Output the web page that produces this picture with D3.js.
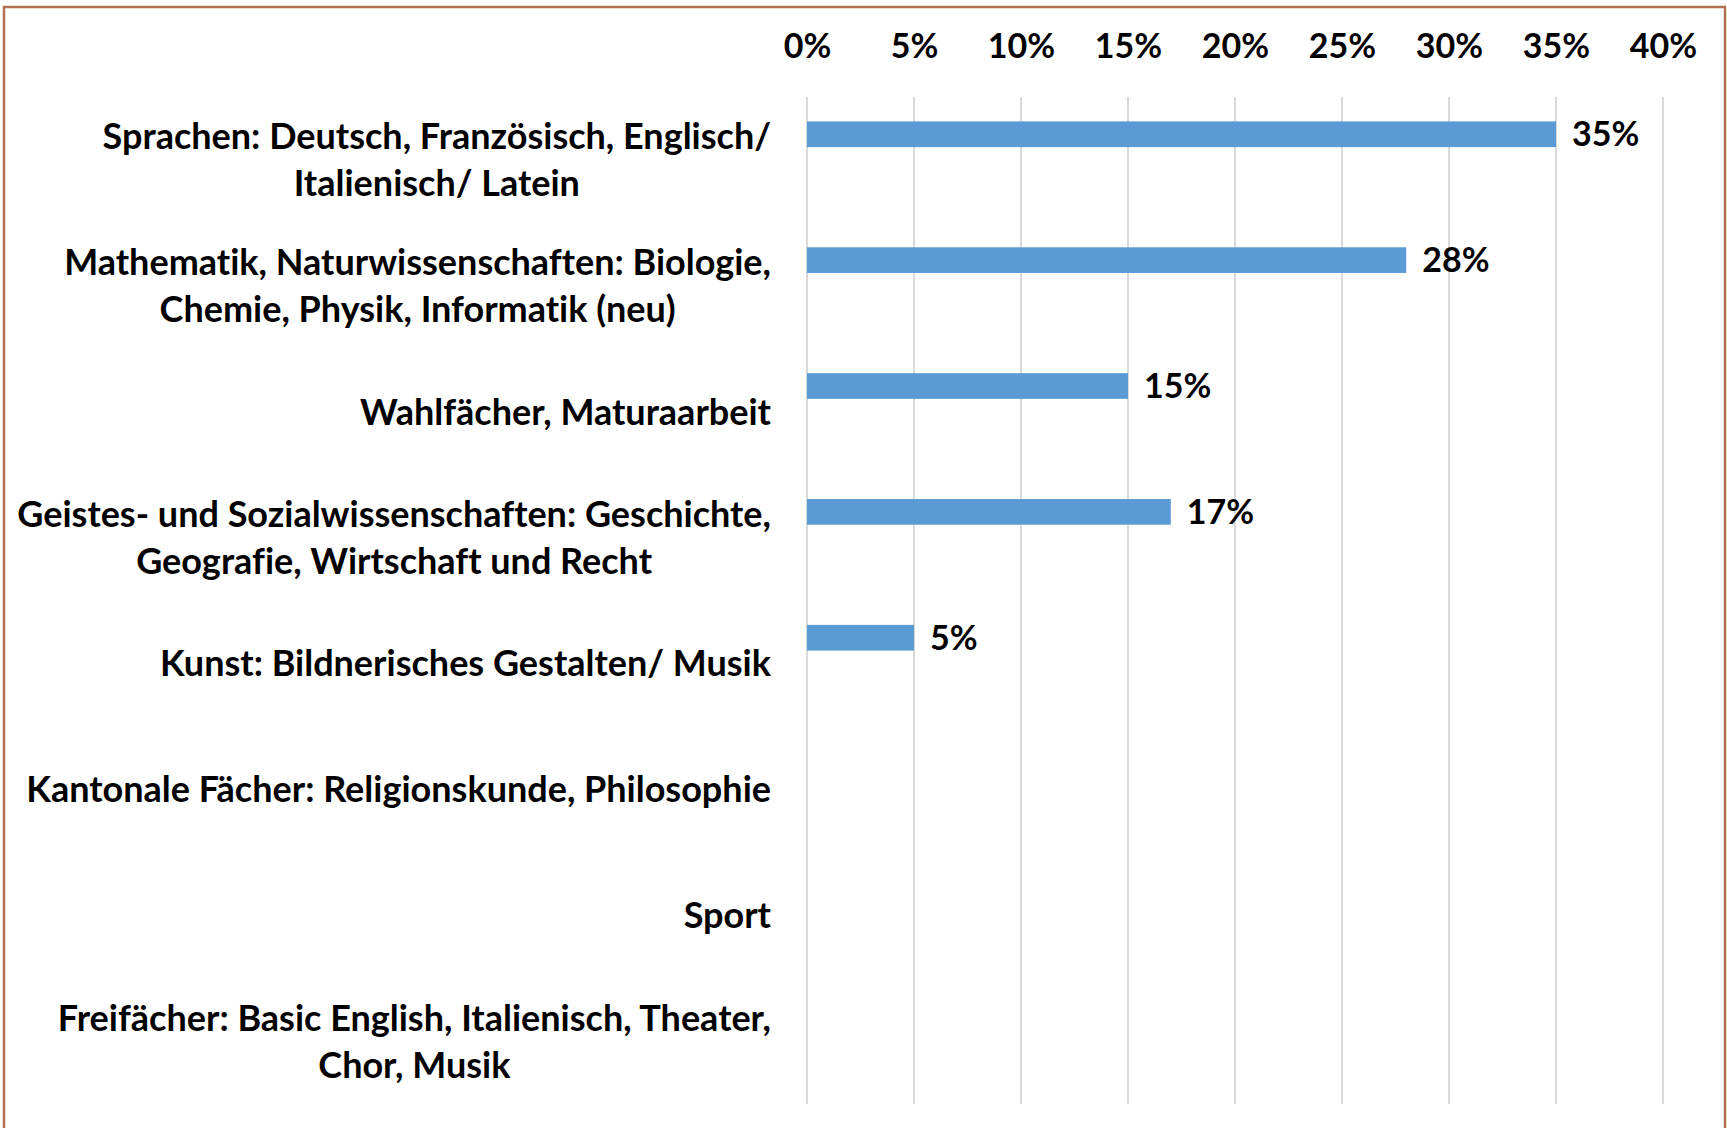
<!DOCTYPE html>
<html>
<head>
<meta charset="utf-8">
<script src="https://cdn.jsdelivr.net/npm/d3@7"></script>
<style>
  html, body { margin: 0; padding: 0; background: #fff; }
  text { font-family: Lato, "Open Sans", sans-serif; font-weight: 700; fill: #000; font-variant-ligatures: none; }
</style>
</head>
<body>
<div id="chart"></div>
<script>
const categories = [
  ["Sprachen: Deutsch, Französisch, Englisch/", "Italienisch/ Latein"],
  ["Mathematik, Naturwissenschaften: Biologie,", "Chemie, Physik, Informatik (neu)"],
  ["Wahlfächer, Maturaarbeit"],
  ["Geistes- und Sozialwissenschaften: Geschichte,", "Geografie, Wirtschaft und Recht"],
  ["Kunst: Bildnerisches Gestalten/ Musik"],
  ["Kantonale Fächer: Religionskunde, Philosophie"],
  ["Sport"],
  ["Freifächer: Basic English, Italienisch, Theater,", "Chor, Musik"]
];
const values = [0.35, 0.28, 0.15, 0.17, 0.05, null, null, null];
const series = ["Anteil", "Serie 2", "Serie 3"];
const ticks = [0, 0.05, 0.10, 0.15, 0.20, 0.25, 0.30, 0.35, 0.40];

const width = 1727, height = 1128;
const margin = {top: 97, right: 64, bottom: 24, left: 807};

const svg = d3.select("#chart").append("svg")
  .attr("width", width)
  .attr("height", height);

// frame
svg.append("path")
  .attr("d", `M4,${height} L4,7 L1725,7 L1725,${height}`)
  .attr("fill", "none")
  .attr("stroke", "#b36f52")
  .attr("stroke-width", 2.5);

const keys = categories.map(c => c.join(" "));

const x = d3.scaleLinear().domain([0, 0.40]).range([margin.left, width - margin.right]);
const y = d3.scaleBand().domain(keys).range([margin.top, height - margin.bottom]);
const ySub = d3.scaleBand().domain(series).range([0, y.bandwidth()]).paddingOuter(0.95);

// gridlines
svg.append("g")
  .selectAll("line")
  .data(ticks)
  .join("line")
  .attr("x1", d => x(d)).attr("x2", d => x(d))
  .attr("y1", margin.top).attr("y2", height - margin.bottom)
  .attr("stroke", "#d9d9d9")
  .attr("stroke-width", 2);

// top axis
const xAxis = svg.append("g")
  .attr("transform", `translate(0,${margin.top})`)
  .call(d3.axisTop(x).tickValues(ticks).tickFormat(d3.format(".0%")).tickSize(0).tickPadding(39));
xAxis.select(".domain").remove();
xAxis.selectAll("text")
  .attr("font-size", 34)
  .attr("font-family", "Lato, sans-serif")
  .attr("font-weight", 700)
  .attr("fill", "#000");

// bars
const rows = keys.map((k, i) => ({key: k, value: values[i]})).filter(d => d.value != null);

svg.append("g")
  .selectAll("rect")
  .data(rows)
  .join("rect")
  .attr("x", x(0))
  .attr("y", d => y(d.key) + ySub("Anteil"))
  .attr("width", d => x(d.value) - x(0))
  .attr("height", ySub.bandwidth())
  .attr("fill", "#5b9bd5");

// value labels
svg.append("g")
  .selectAll("text")
  .data(rows)
  .join("text")
  .attr("x", d => x(d.value) + 16)
  .attr("y", d => y(d.key) + ySub("Anteil") + ySub.bandwidth() / 2)
  .attr("dy", "0.36em")
  .attr("font-size", 34)
  .text(d => d3.format(".0%")(d.value));

// category labels: block right aligned, lines centred on each other
const lineH = 47;
const labelRight = 771;
const fs = 36;

const lab = svg.append("g")
  .selectAll("g")
  .data(categories)
  .join("g");

lab.each(function(lines, i) {
  const g = d3.select(this);
  const cy = y(keys[i]) + y.bandwidth() / 2;
  const tmp = lines.map(l => g.append("text").attr("font-size", fs).text(l));
  const widths = tmp.map(t => t.node().getComputedTextLength());
  tmp.forEach(t => t.remove());
  const maxW = d3.max(widths);
  const cx = labelRight - maxW / 2;
  lines.forEach((l, j) => {
    g.append("text")
      .attr("x", cx)
      .attr("y", cy + (j - (lines.length - 1) / 2) * lineH)
      .attr("dy", "0.36em")
      .attr("text-anchor", "middle")
      .attr("font-size", fs)
      .text(l);
  });
});
</script>
</body>
</html>
